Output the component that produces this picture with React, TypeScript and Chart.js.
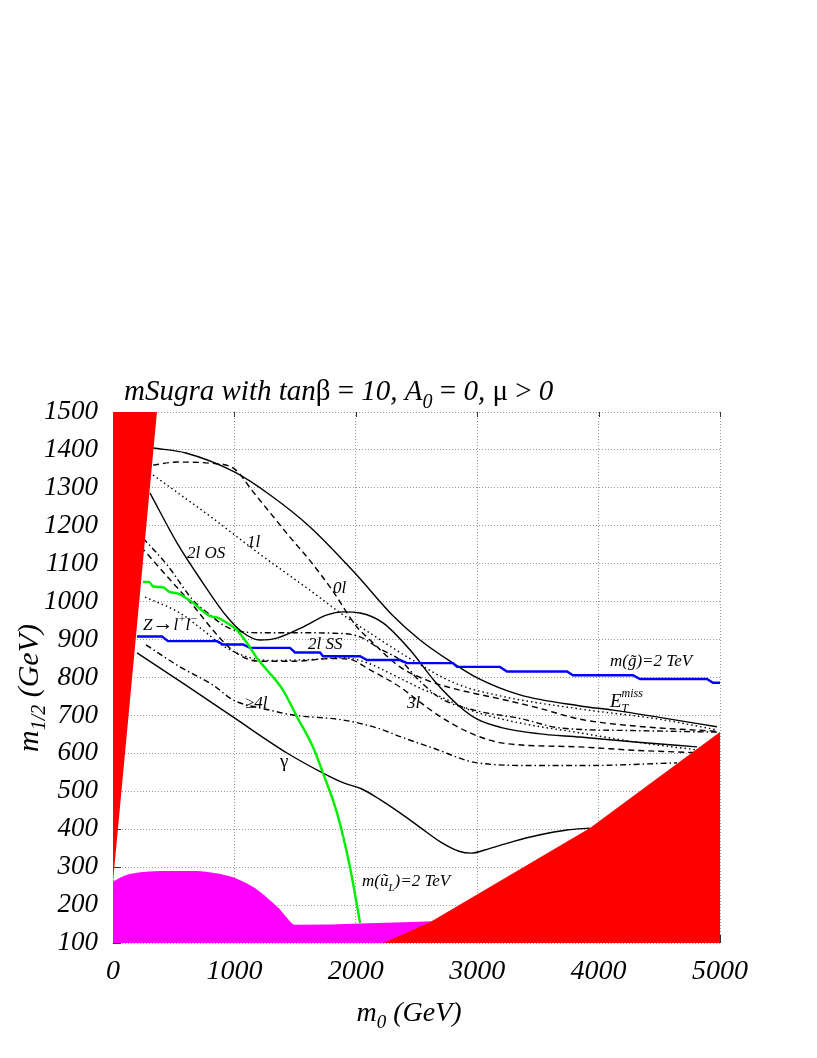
import React, { useEffect, useRef } from 'react';
import { Chart, registerables } from 'chart.js';

Chart.register(...registerables);

type P = [number, number];

// ---- axes ----
const X_TICKS = [0, 1000, 2000, 3000, 4000, 5000];
const Y_TICKS = [100, 200, 300, 400, 500, 600, 700, 800, 900, 1000, 1100, 1200, 1300, 1400, 1500];

// ---- reach contours (m0, m1/2) ----
const ET_MISS: P[] = [[330, 1405], [600, 1392], [1000, 1342], [1300, 1280], [1623, 1197], [2000, 1073], [2300, 965], [2529, 899], [2800, 838], [3000, 799], [3353, 754], [3847, 725], [4119, 714], [4500, 695], [4975, 670]];
const ZERO_L: P[] = [[330, 1360], [527, 1368], [800, 1365], [1000, 1350], [1153, 1290], [1300, 1232], [1458, 1170], [1623, 1108], [1804, 1031], [2010, 933], [2117, 899], [2364, 828], [2611, 790], [2817, 770], [3212, 742], [3500, 720], [3847, 690], [4300, 672], [4975, 658]];
const ONE_L: P[] = [[330, 1334], [800, 1225], [1211, 1125], [1623, 1030], [1895, 965], [2175, 905], [2446, 850], [2817, 785], [3212, 750], [3847, 717], [4500, 690], [4975, 662]];
const OS_2L: P[] = [[305, 1286], [527, 1155], [741, 1049], [939, 960], [1071, 918], [1211, 899], [1351, 904], [1565, 933], [1763, 965], [1895, 973], [2035, 970], [2224, 944], [2446, 873], [2650, 790], [2850, 725], [3000, 690], [3200, 668], [3500, 652], [3847, 643], [4300, 630], [4811, 617]];
const SS_2L: P[] = [[247, 1168], [450, 1095], [659, 1004], [800, 965], [900, 940], [1000, 925], [1211, 918], [1500, 918], [1800, 917], [2035, 907], [2200, 875], [2364, 846], [2529, 790], [2700, 745], [3000, 712], [3353, 692], [3682, 667], [4300, 660], [4975, 656]];
const THREE_L: P[] = [[230, 1145], [450, 1065], [659, 990], [850, 915], [1000, 868], [1200, 843], [1500, 843], [1800, 850], [1950, 848], [2117, 820], [2364, 775], [2529, 735], [2700, 696], [2940, 654], [3212, 627], [3847, 617], [4300, 608], [4893, 601]];
const Z_LL: P[] = [[264, 1012], [552, 970], [741, 925], [900, 885], [1100, 855], [1300, 845], [1600, 847], [1900, 852], [2100, 838], [2300, 808], [2529, 772], [2700, 749], [2940, 714], [3353, 680], [3847, 654], [4300, 630], [4811, 609]];
const FOUR_L: P[] = [[272, 886], [552, 828], [824, 780], [988, 741], [1293, 714], [1483, 701], [1895, 688], [2175, 667], [2400, 640], [2636, 614], [3000, 575], [3460, 568], [3905, 568], [4646, 575]];
const GAMMA: P[] = [[198, 865], [600, 780], [988, 696], [1433, 601], [1730, 548], [1900, 522], [2050, 506], [2200, 478], [2364, 443], [2529, 405], [2700, 366], [2850, 342], [2950, 337], [3100, 349], [3300, 368], [3500, 384], [3740, 398], [3929, 403]];

// ---- mass contours ----
const GLUINO_2TEV: P[] = [[198, 908], [404, 908], [453, 896], [857, 896], [906, 887], [1071, 887], [1129, 878], [1458, 878], [1499, 866], [1705, 866], [1730, 856], [2035, 856], [2092, 846], [2364, 846], [2422, 838], [2800, 838], [2834, 828], [3188, 828], [3245, 816], [3740, 816], [3789, 806], [4283, 806], [4341, 796], [4893, 796], [4942, 786], [5000, 786]];
const SQUARK_2TEV: P[] = [[247, 1052], [296, 1052], [330, 1040], [410, 1038], [470, 1025], [530, 1022], [659, 997], [760, 970], [799, 962], [860, 958], [939, 944], [1021, 925], [1104, 891], [1186, 851], [1268, 820], [1400, 767], [1516, 696], [1647, 617], [1730, 548], [1845, 443], [1952, 300], [2035, 153]];

// ---- excluded regions ----
const RED_LEFT: P[] = [[0, 262], [362, 1500]];
const RED_RIGHT: P[] = [[2224, 100], [2611, 155], [3929, 403], [5000, 656]];
const LEP_REGION: P[] = [[0, 262], [100, 278], [250, 287], [437, 290], [684, 290], [850, 284], [1000, 272], [1096, 258], [1200, 238], [1293, 213], [1370, 190], [1425, 169], [1499, 148], [2700, 158]];

// ---- labels (anchored at data coordinates: left edge, baseline) ----
type Seg = { t: string; size: number; dy?: number; upright?: boolean; noAdvance?: boolean };
const CURVE_LABELS: { m0: number; m12: number; segs: Seg[] }[] = [
  { m0: 610, m12: 1115, segs: [{ t: '2l OS', size: 17 }] },
  { m0: 1104, m12: 1144, segs: [{ t: '1l', size: 17 }] },
  { m0: 1812, m12: 1023, segs: [{ t: '0l', size: 17 }] },
  { m0: 247, m12: 925, segs: [{ t: 'Z', size: 17 }, { t: '→', size: 21, upright: true }, { t: 'l', size: 17 }, { t: '+', size: 11, dy: -8 }, { t: 'l', size: 17 }, { t: '−', size: 11, dy: -8 }] },
  { m0: 1606, m12: 875, segs: [{ t: '2l SS', size: 17 }] },
  { m0: 1087, m12: 720, segs: [{ t: '≥4l', size: 17 }] },
  { m0: 2422, m12: 720, segs: [{ t: '3l', size: 17 }] },
  { m0: 1376, m12: 563, segs: [{ t: 'γ', size: 19, upright: true }] },
  { m0: 2051, m12: 250, segs: [{ t: 'm(', size: 17 }, { t: 'u\u0303', size: 17 }, { t: 'L', size: 11, dy: 5 }, { t: ')=2 TeV', size: 17 }] },
  { m0: 4094, m12: 830, segs: [{ t: 'm(g\u0303)=2 TeV', size: 17 }] },
  { m0: 4094, m12: 722, segs: [{ t: 'E', size: 19 }, { t: 'miss', size: 12, dy: -10, noAdvance: true }, { t: 'T', size: 12, dy: 5 }] },
];

const TITLE_SEGS: Seg[] = [
  { t: 'mSugra with tan', size: 29 }, { t: 'β', size: 29, upright: true }, { t: ' = ', size: 29, upright: true },
  { t: '10, A', size: 29 }, { t: '0', size: 20, dy: 8 }, { t: ' = ', size: 29, upright: true }, { t: '0, ', size: 29 },
  { t: 'μ', size: 29, upright: true }, { t: ' > ', size: 29, upright: true }, { t: '0', size: 29 },
];
const X_TITLE: Seg[] = [{ t: 'm', size: 28 }, { t: '0', size: 19, dy: 7 }, { t: ' (GeV)', size: 28 }];
const Y_TITLE: Seg[] = [{ t: 'm', size: 30 }, { t: '1/2', size: 20, dy: 7 }, { t: ' (GeV)', size: 30 }];

const FAMILY = '"Liberation Serif", "Times New Roman", serif';

function fontOf(s: Seg) {
  return `${s.upright ? '' : 'italic '}${s.size}px ${FAMILY}`;
}

function drawRich(ctx: CanvasRenderingContext2D, x: number, y: number, segs: Seg[], align: 'left' | 'center' = 'left') {
  ctx.save();
  ctx.textAlign = 'left';
  ctx.textBaseline = 'alphabetic';
  ctx.fillStyle = '#000';
  const widths = segs.map((s) => {
    ctx.font = fontOf(s);
    return ctx.measureText(s.t).width;
  });
  let total = 0;
  segs.forEach((s, i) => { if (!s.noAdvance) total += widths[i]; });
  let cx = align === 'center' ? x - total / 2 : x;
  segs.forEach((s, i) => {
    ctx.font = fontOf(s);
    ctx.fillText(s.t, cx, y + (s.dy || 0));
    if (!s.noAdvance) cx += widths[i];
  });
  ctx.restore();
}

const toXY = (pts: P[]) => pts.map(([x, y]) => ({ x, y }));

const SOLID: number[] = [];
const DASHED = [6, 4];
const DOTTED = [1.5, 3];
const DASHDOT = [6, 3, 1.5, 3];

export default function App() {
  const ref = useRef<HTMLCanvasElement | null>(null);

  useEffect(() => {
    if (!ref.current) return;
    const line = (data: P[], dash: number[], color = '#000', width = 1.4, order = 5) => ({
      data: toXY(data),
      borderColor: color,
      borderWidth: width,
      borderDash: dash,
      pointRadius: 0,
      fill: false,
      tension: 0.3,
      cubicInterpolationMode: 'monotone' as const,
      order,
    });
    const area = (data: P[], color: string, fill: string, order: number, smooth = false) => ({
      data: toXY(data),
      borderColor: color,
      borderWidth: 0,
      backgroundColor: color,
      pointRadius: 0,
      fill,
      tension: 0,
      cubicInterpolationMode: smooth ? ('monotone' as const) : ('default' as const),
      order,
    });
    const ticksPlugin = {
      id: 'innerTicks',
      beforeDatasetsDraw(chart: any) {
        const ctx = chart.ctx as CanvasRenderingContext2D;
        const xs = chart.scales.x;
        const ys = chart.scales.y;
        const a = chart.chartArea;
        ctx.save();
        ctx.strokeStyle = '#333';
        ctx.lineWidth = 1;
        ctx.beginPath();
        Y_TICKS.forEach((v) => {
          const y = Math.round(ys.getPixelForValue(v)) + 0.5;
          ctx.moveTo(a.left, y);
          ctx.lineTo(a.left + 8, y);
        });
        X_TICKS.forEach((v) => {
          const x = Math.round(xs.getPixelForValue(v)) + 0.5;
          ctx.moveTo(x, a.top);
          ctx.lineTo(x, a.top + 5);
          ctx.moveTo(x, a.bottom);
          ctx.lineTo(x, a.bottom - 8);
        });
        ctx.stroke();
        ctx.restore();
      },
    };
    const labelsPlugin = {
      id: 'labels',
      afterDraw(chart: any) {
        const ctx = chart.ctx as CanvasRenderingContext2D;
        const xs = chart.scales.x;
        const ys = chart.scales.y;
        CURVE_LABELS.forEach((l) => drawRich(ctx, xs.getPixelForValue(l.m0), ys.getPixelForValue(l.m12), l.segs));
        drawRich(ctx, 124, 400, TITLE_SEGS);
        drawRich(ctx, 409, 1021, X_TITLE, 'center');
        ctx.save();
        ctx.translate(38, 688);
        ctx.rotate(-Math.PI / 2);
        drawRich(ctx, 0, 0, Y_TITLE, 'center');
        ctx.restore();
      },
    };
    const chart = new Chart(ref.current, {
      type: 'line',
      data: {
        datasets: [
          area(RED_RIGHT, '#ff0000', 'start', -20),
          area(RED_LEFT, '#ff0000', 'end', -20),
          area(LEP_REGION, '#ff00ff', 'start', -10, true),
          { ...line(SQUARK_2TEV, SOLID, '#00ee00', 2.4, 1), tension: 0 },
          { ...line(GLUINO_2TEV, SOLID, '#0000ff', 2.4, 1), tension: 0, cubicInterpolationMode: 'default' as const },
          line(ET_MISS, SOLID),
          line(ZERO_L, DASHED),
          line(ONE_L, DOTTED),
          line(OS_2L, SOLID),
          line(SS_2L, DASHDOT),
          line(THREE_L, DASHED),
          line(Z_LL, DOTTED),
          line(FOUR_L, DASHDOT),
          line(GAMMA, SOLID),
        ] as any,
      },
      options: {
        animation: false,
        responsive: false,
        maintainAspectRatio: false,
        layout: { padding: { top: 412, left: 0, right: 97, bottom: 0 } },
        plugins: { legend: { display: false }, tooltip: { enabled: false }, title: { display: false } },
        scales: {
          x: {
            type: 'linear',
            min: 0,
            max: 5000,
            afterFit: (s: any) => { s.height = 115; },
            afterBuildTicks: (s: any) => { s.ticks = X_TICKS.map((v) => ({ value: v })); },
            ticks: { color: '#000', padding: 12, maxRotation: 0, callback: (v: any) => String(v), font: { family: FAMILY, size: 28, style: 'italic' } },
            grid: { color: '#999', lineWidth: 1, drawTicks: false },
            border: { display: false, dash: [1, 2] },
          },
          y: {
            type: 'linear',
            min: 100,
            max: 1500,
            afterFit: (s: any) => { s.width = 113; },
            afterBuildTicks: (s: any) => { s.ticks = Y_TICKS.map((v) => ({ value: v })); },
            ticks: { color: '#000', padding: 15, callback: (v: any) => String(v), font: { family: FAMILY, size: 27, style: 'italic' } },
            grid: { color: '#999', lineWidth: 1, drawTicks: false },
            border: { display: false, dash: [1, 2] },
          },
        },
      } as any,
      plugins: [ticksPlugin, labelsPlugin],
    });
    return () => chart.destroy();
  }, []);

  return (
    <div style={{ position: 'absolute', left: 0, top: 0, width: 817, height: 1058, background: '#fff' }}>
      <canvas ref={ref} width={817} height={1058} style={{ width: 817, height: 1058, display: 'block' }} />
    </div>
  );
}
